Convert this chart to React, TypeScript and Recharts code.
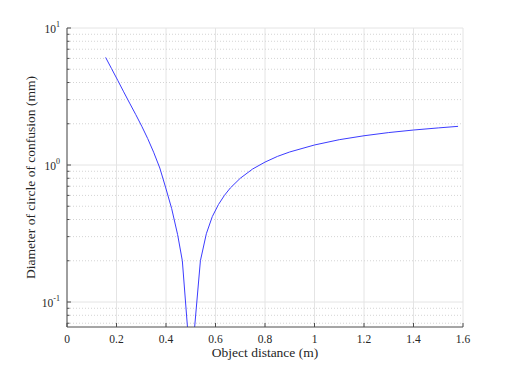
import { LineChart, Line, XAxis, YAxis, CartesianGrid, ReferenceLine } from 'recharts';

// object distance (m)
const distance = [
  0.156, 0.18, 0.205, 0.229, 0.253, 0.278, 0.302, 0.326, 0.35, 0.375, 0.399, 0.423, 0.447, 0.466,
  0.49, 0.51, 0.539, 0.563, 0.587, 0.612, 0.636, 0.66, 0.7, 0.75, 0.8, 0.85, 0.9, 1.0, 1.1, 1.2,
  1.3, 1.4, 1.5, 1.58,
];
// diameter of circle of confusion (mm)
const diameter = [
  6.1, 5.05, 4.15, 3.42, 2.83, 2.33, 1.92, 1.56, 1.24, 0.95, 0.68, 0.48, 0.31, 0.2,
  0.055, 0.05, 0.2, 0.315, 0.42, 0.515, 0.6, 0.68, 0.8, 0.935, 1.05, 1.155, 1.245, 1.4, 1.53, 1.635,
  1.725, 1.8, 1.865, 1.915,
];

const xTicks = [0, 0.2, 0.4, 0.6, 0.8, 1, 1.2, 1.4, 1.6];
const yMajor = [0.1, 1, 10];
const yMinor = [0.07, 0.08, 0.09, 0.2, 0.3, 0.4, 0.5, 0.6, 0.7, 0.8, 0.9, 2, 3, 4, 5, 6, 7, 8, 9];
const yDomain = [0.0657, 10];

const data = distance.map((d, i) => ({ d, c: diameter[i] }));
const yTicks = [...yMinor, ...yMajor].sort((a, b) => a - b);

const FONT = '"Liberation Serif", serif';
const AXIS = '#4d4d4d';
const TEXT = '#262626';

const isMajor = (v: number) => yMajor.includes(v);

function BottomTick({ x, y, payload }: any) {
  return (
    <g>
      <line x1={x} x2={x} y1={y} y2={y - 4} stroke={AXIS} />
      <text x={x} y={y + 16} textAnchor="middle" fontSize={11.5} fontFamily={FONT} fill={TEXT}>
        {String(payload.value)}
      </text>
    </g>
  );
}

function TopTick({ x, y }: any) {
  return <line x1={x} x2={x} y1={y} y2={y + 4} stroke={AXIS} />;
}

function LeftTick({ x, y, payload }: any) {
  const v = payload.value;
  const major = isMajor(v);
  const exp = Math.round(Math.log10(v));
  return (
    <g>
      <line x1={x} x2={x + (major ? 4 : 2.5)} y1={y} y2={y} stroke={AXIS} />
      {major && (
        <text x={x - 7} y={y + 5} textAnchor="end" fontSize={11.5} fontFamily={FONT} fill={TEXT}>
          10
          <tspan dy={-6} fontSize={8}>
            {exp}
          </tspan>
        </text>
      )}
    </g>
  );
}

function RightTick({ x, y, payload }: any) {
  const major = isMajor(payload.value);
  return <line x1={x} x2={x - (major ? 4 : 2.5)} y1={y} y2={y} stroke={AXIS} />;
}

export default function App() {
  return (
    <div style={{ position: 'absolute', left: 0, top: 0, background: '#fff' }}>
      <LineChart width={512} height={369} data={data} margin={{ top: 28, right: 49, left: 0, bottom: 0 }}>
        <CartesianGrid horizontal={false} stroke="#e4e4e4" />
        {yMinor.map((v) => (
          <ReferenceLine key={'m' + v} y={v} stroke="#d4d4d4" strokeDasharray="1 2" />
        ))}
        {yMajor.map((v) => (
          <ReferenceLine key={'M' + v} y={v} stroke="#e4e4e4" />
        ))}
        <XAxis
          type="number"
          dataKey="d"
          domain={[0, 1.6]}
          ticks={xTicks}
          interval={0}
          height={42}
          tickSize={0}
          tickMargin={0}
          tickLine={false}
          tick={<BottomTick />}
          axisLine={{ stroke: AXIS }}
          label={{
            content: ({ viewBox }: any) => (
              <text
                x={viewBox.x + viewBox.width / 2}
                y={viewBox.y + 30}
                textAnchor="middle"
                fontSize={13.5}
                fontFamily={FONT}
                fill={TEXT}
              >
                Object distance (m)
              </text>
            ),
          }}
        />
        <XAxis
          xAxisId="top"
          orientation="top"
          type="number"
          dataKey="d"
          domain={[0, 1.6]}
          ticks={xTicks}
          interval={0}
          height={0}
          tickSize={0}
          tickMargin={0}
          tickLine={false}
          tick={<TopTick />}
          axisLine={{ stroke: AXIS }}
        />
        <YAxis
          scale="log"
          domain={yDomain}
          allowDataOverflow
          ticks={yTicks}
          interval={0}
          width={67}
          tickSize={0}
          tickMargin={0}
          tickLine={false}
          tick={<LeftTick />}
          axisLine={{ stroke: AXIS }}
          label={{
            content: ({ viewBox }: any) => {
              const cx = 30;
              const cy = viewBox.y + viewBox.height / 2;
              return (
                <text
                  x={cx}
                  y={cy}
                  transform={`rotate(-90 ${cx} ${cy})`}
                  textAnchor="middle"
                  dominantBaseline="central"
                  fontSize={13.5}
                  fontFamily={FONT}
                  fill={TEXT}
                >
                  Diameter of circle of confusion (mm)
                </text>
              );
            },
          }}
        />
        <YAxis
          yAxisId="right"
          orientation="right"
          scale="log"
          domain={yDomain}
          allowDataOverflow
          ticks={yTicks}
          interval={0}
          width={0}
          tickSize={0}
          tickMargin={0}
          tickLine={false}
          tick={<RightTick />}
          axisLine={{ stroke: AXIS }}
        />
        <Line
          type="linear"
          dataKey="c"
          stroke="#3c3cff"
          strokeWidth={1}
          dot={false}
          isAnimationActive={false}
        />
      </LineChart>
    </div>
  );
}
